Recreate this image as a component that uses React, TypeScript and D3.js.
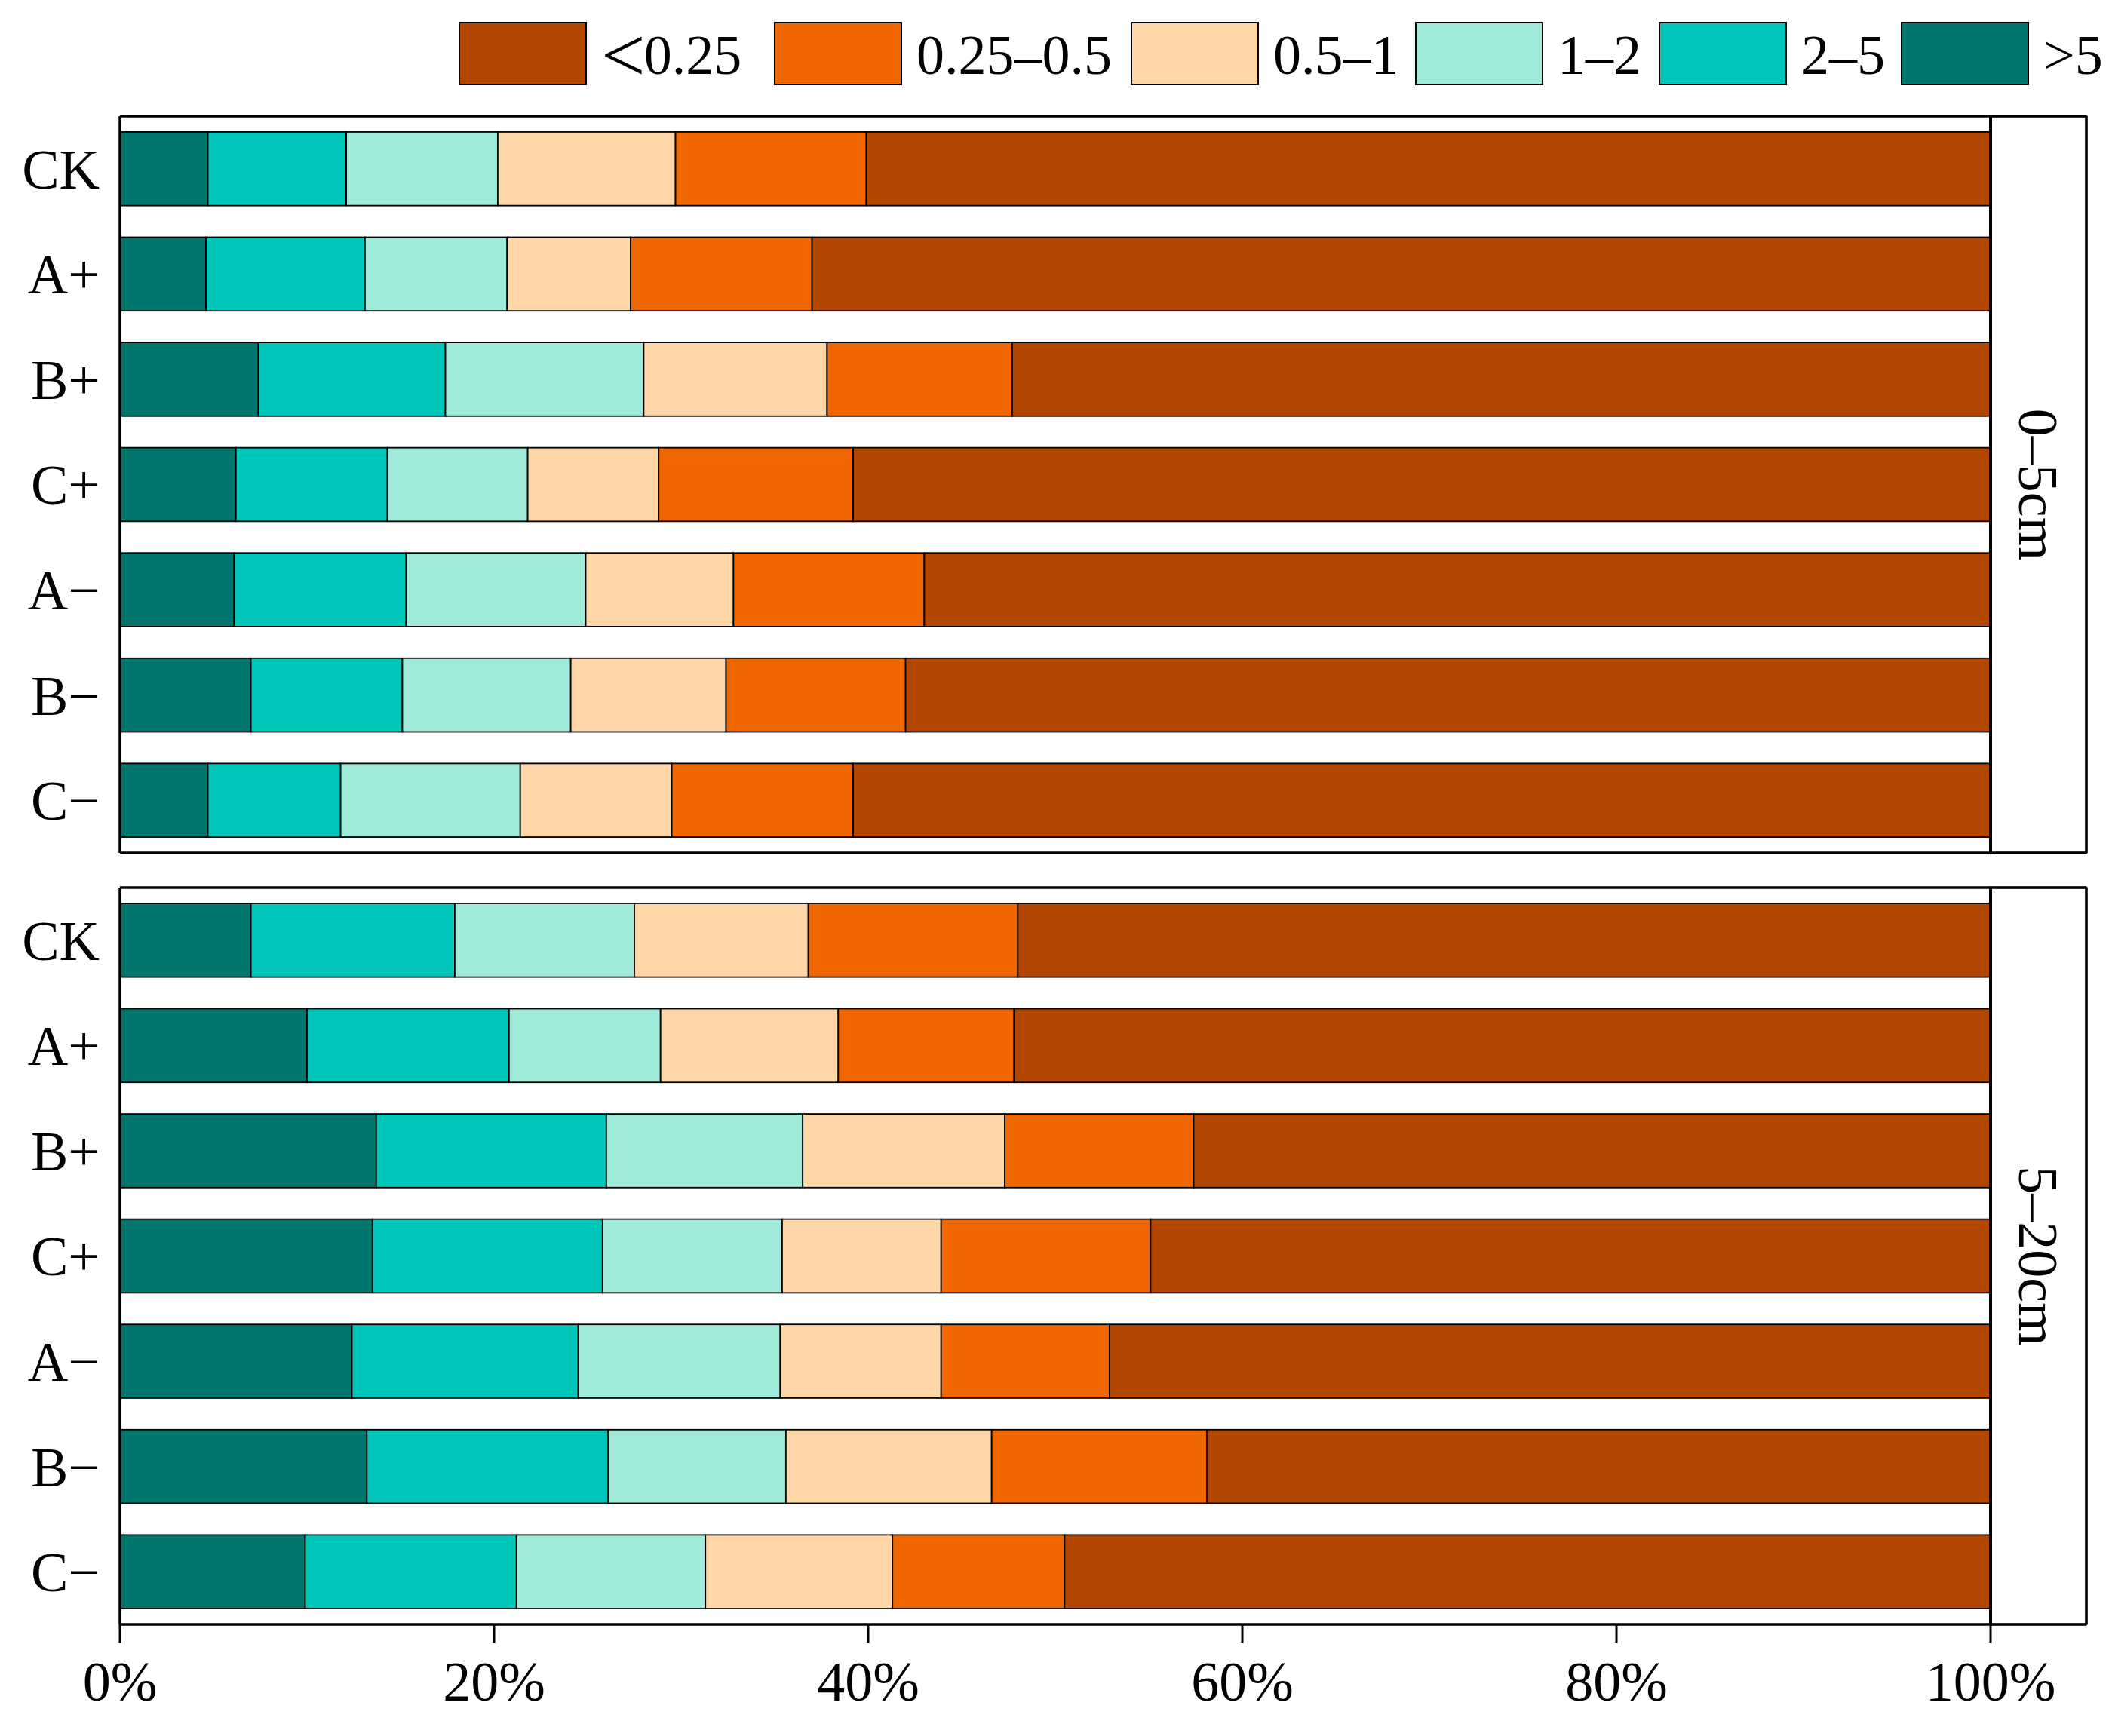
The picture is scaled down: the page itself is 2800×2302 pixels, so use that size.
import * as d3 from 'd3';

const treatments = ['CK', 'A+', 'B+', 'C+', 'A−', 'B−', 'C−'];
const depths = ['0–5cm', '5–20cm'];

// stacked from left to right
const sizeKeys = ['>5', '2–5', '1–2', '0.5–1', '0.25–0.5', '<0.25'];
const sizeColors = ['#00766C', '#00C7BA', '#A0EADA', '#FED6A8', '#F06600', '#B34700'];
const legendOrder = ['<0.25', '0.25–0.5', '0.5–1', '1–2', '2–5', '>5'];

// 0–5cm, percent per treatment
const top_gt5 = [4.7, 4.6, 7.4, 6.2, 6.1, 7.0, 4.7];
const top_2to5 = [7.4, 8.5, 10.0, 8.1, 9.2, 8.1, 7.1];
const top_1to2 = [8.1, 7.6, 10.6, 7.5, 9.6, 9.0, 9.6];
const top_05to1 = [9.5, 6.6, 9.8, 7.0, 7.9, 8.3, 8.1];
const top_025to05 = [10.2, 9.7, 9.9, 10.4, 10.2, 9.6, 9.7];
const top_lt025 = [60.1, 63.0, 52.3, 60.8, 57.0, 58.0, 60.8];

// 5–20cm
const sub_gt5 = [7.0, 10.0, 13.7, 13.5, 12.4, 13.2, 9.9];
const sub_2to5 = [10.9, 10.8, 12.3, 12.3, 12.1, 12.9, 11.3];
const sub_1to2 = [9.6, 8.1, 10.5, 9.6, 10.8, 9.5, 10.1];
const sub_05to1 = [9.3, 9.5, 10.8, 8.5, 8.6, 11.0, 10.0];
const sub_025to05 = [11.2, 9.4, 10.1, 11.2, 9.0, 11.5, 9.2];
const sub_lt025 = [52.0, 52.2, 42.6, 44.9, 47.1, 41.9, 49.5];

const xTicks = [0, 20, 40, 60, 80, 100];

const panelSeries = [
  [top_gt5, top_2to5, top_1to2, top_05to1, top_025to05, top_lt025],
  [sub_gt5, sub_2to5, sub_1to2, sub_05to1, sub_025to05, sub_lt025],
];

const W = 2800;
const H = 2302;
const left = 159;
const barRight = 2639;
const stripRight = 2766;
const panelTops = [154, 1177];
const panelH = 977;
const FONT = '"Liberation Serif", "Times New Roman", serif';
const FS = 74;

const x = d3.scaleLinear().domain([0, 100]).range([left, barRight]);
const color = d3.scaleOrdinal<string, string>().domain(sizeKeys).range(sizeColors);

function rowsFor(series: number[][]) {
  return treatments.map((t, i) => {
    const row: Record<string, any> = { treatment: t };
    sizeKeys.forEach((k, j) => (row[k] = series[j][i]));
    return row;
  });
}

function Panel({ index }: { index: number }) {
  const top = panelTops[index];
  const bottom = top + panelH;
  const y = d3
    .scaleBand<string>()
    .domain(treatments)
    .range([top, bottom])
    .paddingInner(0.3)
    .paddingOuter(0.15);
  const stacked = d3.stack<any>().keys(sizeKeys)(rowsFor(panelSeries[index]));

  return (
    <g>
      {stacked.map((layer) => (
        <g key={layer.key} fill={color(layer.key)}>
          {layer.map((d, i) => (
            <rect
              key={i}
              x={x(d[0])}
              y={y(treatments[i])}
              width={x(d[1]) - x(d[0])}
              height={y.bandwidth()}
              stroke="#000"
              strokeWidth={1.8}
            />
          ))}
        </g>
      ))}
      {treatments.map((t) => (
        <text
          key={t}
          x={132}
          y={(y(t) ?? 0) + y.bandwidth() / 2}
          dy="0.35em"
          textAnchor="end"
          fontSize={FS}
          fontFamily={FONT}
        >
          {t}
        </text>
      ))}
      {/* strip on the right */}
      <rect x={barRight} y={top} width={stripRight - barRight} height={panelH} fill="#fff" stroke="#000" strokeWidth={2.5} />
      <line x1={barRight} x2={barRight} y1={top} y2={bottom} stroke="#000" strokeWidth={4} />
      <line x1={stripRight} x2={stripRight} y1={top} y2={bottom} stroke="#000" strokeWidth={3.5} />
      <text
        transform={`translate(${(barRight + stripRight) / 2},${top + panelH / 2}) rotate(90)`}
        dy="0.35em"
        textAnchor="middle"
        fontSize={FS}
        fontFamily={FONT}
      >
        {depths[index]}
      </text>
      {/* frame */}
      <line x1={left} x2={stripRight} y1={top} y2={top} stroke="#000" strokeWidth={3.5} />
      <line x1={left} x2={stripRight} y1={bottom} y2={bottom} stroke="#000" strokeWidth={3.5} />
      <line x1={left} x2={left} y1={top} y2={bottom} stroke="#000" strokeWidth={3.5} />
    </g>
  );
}

function Legend() {
  const boxX = [609, 1027, 1500, 1877, 2200, 2521];
  const boxW = 168;
  const boxY = 30;
  const boxH = 82;
  const baseline = 98;
  return (
    <g>
      {legendOrder.map((k, i) => (
        <g key={k}>
          <rect x={boxX[i]} y={boxY} width={boxW} height={boxH} fill={color(k)} stroke="#000" strokeWidth={2} />
          <text x={boxX[i] + boxW + 20} y={baseline} fontSize={FS} fontFamily={FONT}>
            {k === '<0.25' ? (
              <>
                <tspan fontSize={104} dy={10}>{'<'}</tspan>
                <tspan dx={-2} dy={-10}>0.25</tspan>
              </>
            ) : (
              k
            )}
          </text>
        </g>
      ))}
    </g>
  );
}

function XAxis() {
  const y0 = panelTops[1] + panelH;
  return (
    <g>
      {xTicks.map((t) => (
        <g key={t}>
          <line x1={x(t)} x2={x(t)} y1={y0} y2={y0 + 25} stroke="#000" strokeWidth={3} />
          <text x={x(t)} y={2255} textAnchor="middle" fontSize={FS} fontFamily={FONT}>
            {`${t}%`}
          </text>
        </g>
      ))}
    </g>
  );
}

export default function App() {
  return (
    <div style={{ position: 'absolute', left: 0, top: 0 }}>
      <svg width={W} height={H} viewBox={`0 0 ${W} ${H}`} style={{ display: 'block', background: '#fff' }}>
        <rect width={W} height={H} fill="#fff" />
        <Legend />
        <Panel index={0} />
        <Panel index={1} />
        <XAxis />
      </svg>
    </div>
  );
}
